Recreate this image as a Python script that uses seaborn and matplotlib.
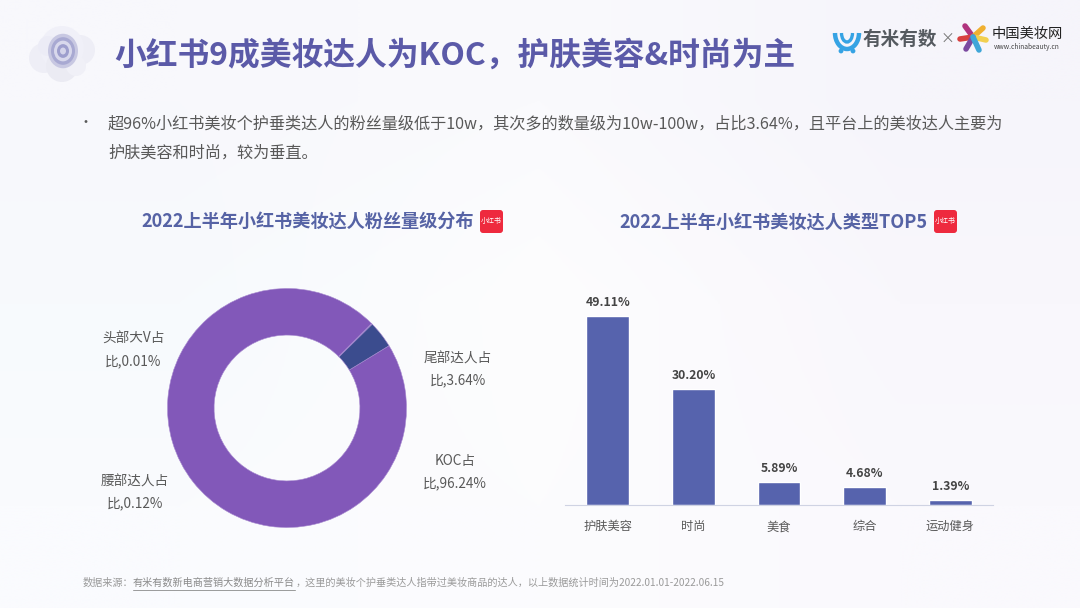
import numpy as np
import pandas as pd
import matplotlib
matplotlib.use("Agg")
import matplotlib.pyplot as plt
from matplotlib.patches import Circle, FancyBboxPatch, Ellipse, Arc
import seaborn as sns

# donut: fan level share
fan_levels = ["KOC占\n比,96.24%", "腰部达人占\n比,0.12%", "头部大V占\n比,0.01%", "尾部达人占\n比,3.64%"]
fan_share = [96.24, 0.12, 0.01, 3.64]

# bars: top 5 types
types = ["护肤美容", "时尚", "美食", "综合", "运动健身"]
type_share = [49.11, 30.20, 5.89, 4.68, 1.39]

title = "小红书9成美妆达人为KOC，护肤美容&时尚为主"
body_1 = "超96%小红书美妆个护垂类达人的粉丝量级低于10w，其次多的数量级为10w-100w，占比3.64%，且平台上的美妆达人主要为"
body_2 = "护肤美容和时尚，较为垂直。"
title_left = "2022上半年小红书美妆达人粉丝量级分布"
title_right = "2022上半年小红书美妆达人类型TOP5"
source_a = "数据来源："
source_b = "有米有数新电商营销大数据分析平台"
source_c = "，这里的美妆个护垂类达人指带过美妆商品的达人，以上数据统计时间为2022.01.01-2022.06.15"

W, H = 1080, 608
PURPLE = "#8258b9"
NAVY = "#3b4c8e"
BAR = "#5663ad"
GREY = "#595959"
LOGO_BLUE = "#36a3e4"

sns.set_theme(style="white")
plt.rcParams["font.family"] = ["Noto Sans CJK SC", "DejaVu Sans"]

fig = plt.figure(figsize=(W / 100, H / 100), dpi=100)


def px_axes(x0, y0, x1, y1):
    return fig.add_axes([x0 / W, 1 - y1 / H, (x1 - x0) / W, (y1 - y0) / H])


# page background and everything placed by pixel
bg = px_axes(0, 0, W, H)
shade = np.array([[[248, 248, 252], [250, 250, 253], [246, 245, 251]],
                  [[247, 250, 253], [253, 253, 254], [249, 247, 252]],
                  [[250, 251, 254], [252, 252, 254], [250, 249, 253]]]) / 255
bg.imshow(shade, extent=(0, W, H, 0), aspect="auto", interpolation="bilinear")
bg.set_xlim(0, W)
bg.set_ylim(H, 0)
bg.axis("off")

# cloud icon, top left
for cx, cy, r, c in [(44, 58, 15, "#eeeef6"), (80, 50, 15, "#eeeef6"), (62, 48, 22, "#f0f0f8"),
                     (62, 66, 16, "#ebebf3"), (48, 46, 10, "#ececf6"), (76, 66, 10, "#f0f0f7")]:
    bg.add_patch(Circle((cx, cy), r, fc=c, ec="none"))
for r, c in [(15, "#c8c8e2"), (12, "#a8a9d2"), (9, "#d8d8ec"), (6, "#9d9ecd"), (3, "#d4d4ea")]:
    bg.add_patch(Ellipse((63, 51), 2 * r, 2.3 * r, fc=c, ec="none"))

bg.text(114, 56, title, fontsize=22.9, fontweight="bold", color="#5b5aa8", va="center", ha="left")

# logos on the right
bg.add_patch(Arc((847, 33), 24, 32, theta1=0, theta2=180, color=LOGO_BLUE, lw=3.2))
bg.add_patch(Arc((847, 33), 11, 18, theta1=0, theta2=180, color=LOGO_BLUE, lw=2.4))
bg.add_patch(Circle((841, 51), 2.4, fc=LOGO_BLUE, ec="none"))
bg.add_patch(Circle((853, 51), 2.4, fc=LOGO_BLUE, ec="none"))
bg.text(863, 39, "有米有数", fontsize=13.4, fontweight="bold", color="#555a60", va="center")
bg.text(947, 39, "×", fontsize=10, color="#777777", va="center", ha="center")
for dx, dy, c in [(-8, -11, "#b0337e"), (10, -9, "#f0b030"), (-13, 2, "#d8403f"),
                  (13, 3, "#f2d050"), (-7, 12, "#7b4aa0"), (6, 13, "#3fa6d8"), (0, 0, "#e8804a")]:
    bg.plot([973, 973 + dx], [37, 37 + dy], color=c, lw=4, solid_capstyle="round")
bg.text(1027, 34, "中国美妆网", fontsize=10.3, fontweight="medium", color="#222222", va="center", ha="center")
bg.text(1027, 47, "www.chinabeauty.cn", fontsize=4.8, color="#444444", va="center", ha="center")

# bullet text
bg.text(85, 123, "•", fontsize=10, color=GREY, va="center", ha="center")
bg.text(108, 124, body_1, fontsize=11.65, color=GREY, va="center")
bg.text(108, 153, body_2, fontsize=11.65, color=GREY, va="center")

# chart headings with the small red badge
bg.text(141, 222, title_left, fontsize=13.1, fontweight="bold", color="#5663a5", va="center")
bg.text(619, 222, title_right, fontsize=13.1, fontweight="bold", color="#5663a5", va="center")
for bx in (480, 934):
    bg.add_patch(FancyBboxPatch((bx, 210), 23, 23, boxstyle="round,pad=0,rounding_size=3",
                                fc="#ee2a3e", ec="none"))
    bg.text(bx + 11.5, 221.5, "小红书", fontsize=5, color="white", va="center", ha="center")

# footnote
bg.text(83, 583, source_a, fontsize=7.3, color="#9a9a9a", va="center")
bg.text(133, 583, source_b, fontsize=7.3, color="#8a8a8a", va="center")
bg.plot([133, 295], [590, 590], color="#9a9a9a", lw=0.7)
bg.text(296, 583, source_c, fontsize=7.3, color="#9a9a9a", va="center")

# donut
ax_pie = px_axes(287 - 120, 408 - 120, 287 + 120, 408 + 120)
pie_colors = [PURPLE, PURPLE, PURPLE, NAVY]
ax_pie.pie(fan_share, colors=pie_colors, startangle=31.4, counterclock=False, radius=1.0,
           wedgeprops=dict(width=0.39, edgecolor="#a88ad0", linewidth=0.4))
ax_pie.set_xlim(-1.004, 1.004)
ax_pie.set_ylim(-1.004, 1.004)

label_spots = [(455, 472), (135, 492), (133, 350), (458, 369)]
for lab, (lx, ly) in zip(fan_levels, label_spots):
    bg.text(lx, ly, lab, fontsize=9.8, color=GREY, ha="center", va="center", linespacing=1.7)

# bars
df = pd.DataFrame({"type": types, "share": type_share})
ax_bar = px_axes(565, 290, 993, 505)
sns.barplot(data=df, x="type", y="share", color=BAR, width=0.5, saturation=1, ax=ax_bar)
ax_bar.set_xlim(-0.5, 4.5)
ax_bar.set_ylim(0, 215 / 3.842)
ax_bar.patch.set_alpha(0)
sns.despine(ax=ax_bar, left=True)
ax_bar.spines["bottom"].set_color("#cfd3e3")
ax_bar.spines["bottom"].set_linewidth(0.8)
ax_bar.set_xlabel("")
ax_bar.set_ylabel("")
ax_bar.set_yticks([])
ax_bar.tick_params(axis="x", length=0, pad=11, labelsize=8.8, labelcolor=GREY)
ax_bar.bar_label(ax_bar.containers[0], labels=[f"{v:.2f}%" for v in type_share], padding=5,
                 fontsize=8.8, fontweight="bold", color="#444444")

fig.savefig("out.png", dpi=100)
